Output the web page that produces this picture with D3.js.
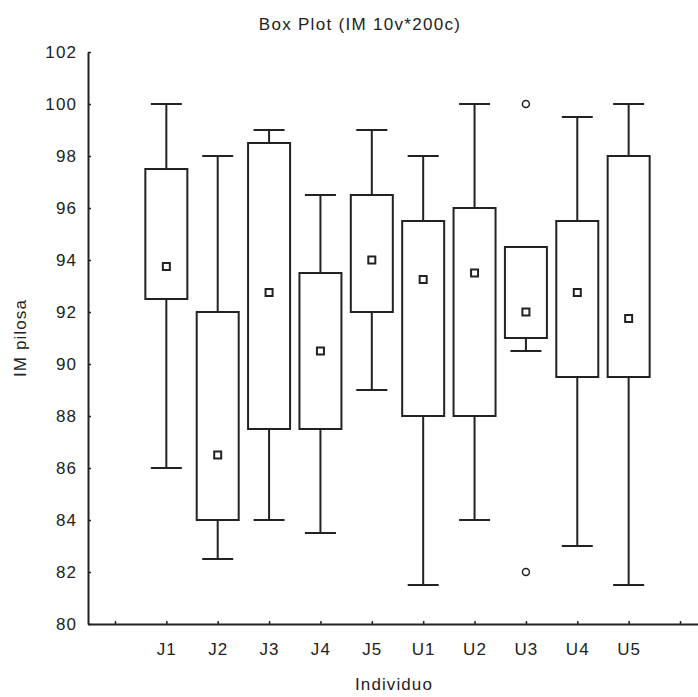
<!DOCTYPE html>
<html>
<head>
<meta charset="utf-8">
<script src="https://cdn.jsdelivr.net/npm/d3@7"></script>
<style>
  body { margin: 0; background: #fff; }
  text { font-family: "Liberation Sans", Arial, sans-serif; fill: #222; }
</style>
</head>
<body>
<div id="boxplot"></div>
<script>
// Data
const categories = ["J1", "J2", "J3", "J4", "J5", "U1", "U2", "U3", "U4", "U5"];
const whiskerLow = [86, 82.5, 84, 83.5, 89, 81.5, 84, 90.5, 83, 81.5];
const boxLow = [92.5, 84, 87.5, 87.5, 92, 88, 88, 91, 89.5, 89.5];
const means = [93.75, 86.5, 92.75, 90.5, 94, 93.25, 93.5, 92, 92.75, 91.75];
const boxHigh = [97.5, 92, 98.5, 93.5, 96.5, 95.5, 96, 94.5, 95.5, 98];
const whiskerHigh = [100, 98, 99, 96.5, 99, 98, 100, 94.5, 99.5, 100];
const outliers = [
    {cat: "U3", value: 100},
    {cat: "U3", value: 82}
];
const xTickLabels = ["", ...categories, ""];
const yTicks = d3.range(80, 103, 2);

const width = 698, height = 697;
const ink = "#222";

const svg = d3.select("#boxplot")
    .append("svg")
    .attr("width", width)
    .attr("height", height);

// Scales: tick index 0 and 11 are empty slots on either side
const x = d3.scaleLinear()
    .domain([-0.525, 11.35])
    .range([88, 698]);

const y = d3.scaleLinear()
    .domain([80, 102])
    .range([624, 52]);

const catX = c => x(categories.indexOf(c) + 1);

// Axes
const xAxis = svg.append("g")
    .attr("transform", `translate(0,${y(80)})`)
    .call(d3.axisBottom(x)
        .tickValues(d3.range(0, 12))
        .tickFormat(i => xTickLabels[i])
        .tickSize(-3)
        .tickSizeOuter(0)
        .tickPadding(19));

const yAxis = svg.append("g")
    .attr("transform", `translate(${x.range()[0]},0)`)
    .call(d3.axisLeft(y)
        .tickValues(yTicks)
        .tickSize(-3)
        .tickSizeOuter(0)
        .tickPadding(11));

[xAxis, yAxis].forEach(g => {
    g.select(".domain").attr("stroke", ink).attr("stroke-width", 2);
    g.selectAll(".tick line").attr("stroke", ink).attr("stroke-width", 1.5);
    g.selectAll("text")
        .attr("fill", ink)
        .style("font-size", "17px")
        .style("letter-spacing", "1.1px")
        .style("font-family", "'Liberation Sans', Arial, sans-serif");
});

// Title and axis labels
svg.append("text")
    .attr("x", 360)
    .attr("y", 30)
    .attr("text-anchor", "middle")
    .style("font-size", "17px")
    .style("letter-spacing", "1.3px")
    .text("Box Plot (IM 10v*200c)");

svg.append("text")
    .attr("x", 394)
    .attr("y", 690)
    .attr("text-anchor", "middle")
    .style("font-size", "17px")
    .style("letter-spacing", "1.1px")
    .text("Individuo");

svg.append("text")
    .attr("transform", "rotate(-90)")
    .attr("x", -338)
    .attr("y", 26)
    .attr("text-anchor", "middle")
    .style("font-size", "17px")
    .style("letter-spacing", "1.1px")
    .text("IM pilosa");

// Boxes
const boxWidth = 42;
const capWidth = 31;
const marker = 7;

categories.forEach((c, i) => {
    const cx = catX(c);

    // whiskers
    svg.append("line")
        .attr("x1", cx).attr("x2", cx)
        .attr("y1", y(whiskerLow[i])).attr("y2", y(whiskerHigh[i]))
        .attr("stroke", ink).attr("stroke-width", 2);

    [whiskerLow[i], whiskerHigh[i]].forEach(v => {
        svg.append("line")
            .attr("x1", cx - capWidth / 2).attr("x2", cx + capWidth / 2)
            .attr("y1", y(v)).attr("y2", y(v))
            .attr("stroke", ink).attr("stroke-width", 2);
    });

    // box
    svg.append("rect")
        .attr("x", cx - boxWidth / 2)
        .attr("y", y(boxHigh[i]))
        .attr("width", boxWidth)
        .attr("height", y(boxLow[i]) - y(boxHigh[i]))
        .attr("fill", "#fff")
        .attr("stroke", ink)
        .attr("stroke-width", 2);

    // mean marker
    svg.append("rect")
        .attr("x", cx - marker / 2)
        .attr("y", y(means[i]) - marker / 2)
        .attr("width", marker)
        .attr("height", marker)
        .attr("fill", "#fff")
        .attr("stroke", ink)
        .attr("stroke-width", 2);
});

// Outliers
svg.selectAll("circle.outlier")
    .data(outliers)
    .enter()
    .append("circle")
    .attr("class", "outlier")
    .attr("cx", d => catX(d.cat))
    .attr("cy", d => y(d.value))
    .attr("r", 3.5)
    .attr("fill", "#fff")
    .attr("stroke", ink)
    .attr("stroke-width", 1.5);
</script>
</body>
</html>
